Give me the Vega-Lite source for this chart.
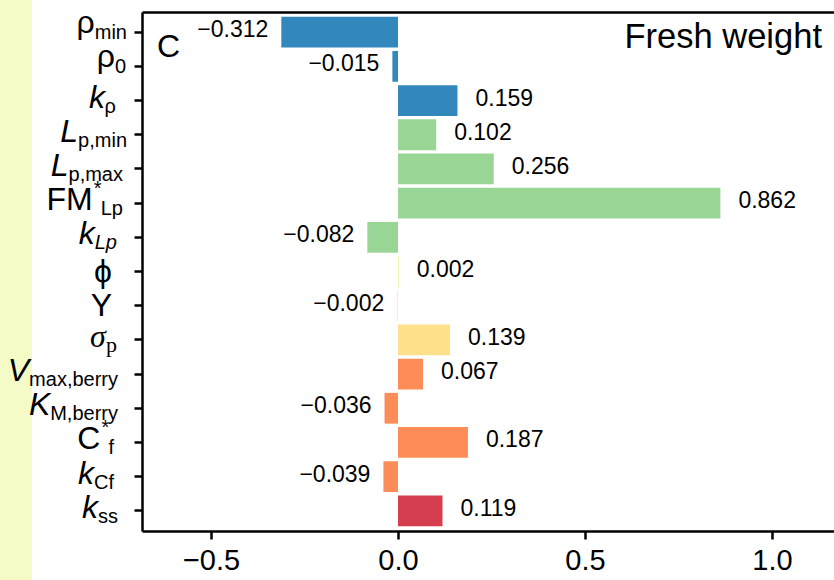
{
  "$schema": "https://vega.github.io/schema/vega-lite/v6.json",
  "width": 692,
  "height": 519,
  "autosize": {"type": "none"},
  "padding": {"left": 142, "top": 12, "right": 0, "bottom": 49},
  "background": "white",
  "config": {
    "view": {"stroke": null},
    "font": "Liberation Sans",
    "axis": {"domainColor": "black", "tickColor": "black", "labelColor": "black", "grid": false}
  },
  "data": {
    "values": [
      {"param": "ρmin", "main": "ρ", "sub": "min", "sup": "", "value": -0.312, "grp": "g1"},
      {"param": "ρ0", "main": "ρ", "sub": "0", "sup": "", "value": -0.015, "grp": "g1"},
      {"param": "kρ", "main": "k", "sub": "ρ", "sup": "", "value": 0.159, "grp": "g1"},
      {"param": "Lp,min", "main": "L", "sub": "p,min", "sup": "", "value": 0.102, "grp": "g2"},
      {"param": "Lp,max", "main": "L", "sub": "p,max", "sup": "", "value": 0.256, "grp": "g2"},
      {"param": "FM*Lp", "main": "FM", "sub": "Lp", "sup": "*", "value": 0.862, "grp": "g2"},
      {"param": "kLp", "main": "k", "sub": "Lp", "sup": "", "value": -0.082, "grp": "g2"},
      {"param": "ϕ", "main": "ϕ", "sub": "", "sup": "", "value": 0.002, "grp": "g3"},
      {"param": "Y", "main": "Y", "sub": "", "sup": "", "value": -0.002, "grp": "g3"},
      {"param": "σp", "main": "σ", "sub": "p", "sup": "", "value": 0.139, "grp": "g4"},
      {"param": "Vmax,berry", "main": "V", "sub": "max,berry", "sup": "", "value": 0.067, "grp": "g5"},
      {"param": "KM,berry", "main": "K", "sub": "M,berry", "sup": "", "value": -0.036, "grp": "g5"},
      {"param": "C*f", "main": "C", "sub": "f", "sup": "*", "value": 0.187, "grp": "g5"},
      {"param": "kCf", "main": "k", "sub": "Cf", "sup": "", "value": -0.039, "grp": "g5"},
      {"param": "kss", "main": "k", "sub": "ss", "sup": "", "value": 0.119, "grp": "g6"}
    ]
  },
  "transform": [
    {"calculate": "20*(0.556*length(datum.sub) + 0.277*length(replace(datum.sub, regexp('[^mM]','g'), '')) - 0.278*length(replace(datum.sub, regexp('[^,f]','g'), '')) - 0.334*length(replace(datum.sub, regexp('[^i]','g'), '')) - 0.223*length(replace(datum.sub, regexp('[^r]','g'), '')) - 0.056*length(replace(datum.sub, regexp('[^xys]','g'), '')) + 0.166*length(replace(datum.sub, regexp('[^C]','g'), '')))", "as": "subW"},
    {"calculate": "datum.sub == '' ? '' : substring(datum.sub, length(datum.sub) - 1)", "as": "lastc"},
    {"calculate": "datum.sub == '' ? 112 : datum.lastc == 'n' ? 127 : datum.lastc == '0' ? 126 : datum.lastc == 'x' ? 123 : datum.lastc == 'ρ' ? 116 : datum.lastc == 'y' ? 118 : datum.lastc == 'f' ? 114 : datum.lastc == 's' ? 118 : datum.sup != '' ? 123 : 117", "as": "R"},
    {"calculate": "datum.R - datum.subW - (datum.sup != '' ? 8 : 0)", "as": "mainEnd"},
    {"calculate": "-0.6845 + (datum.mainEnd - 142)/374", "as": "mx"},
    {"calculate": "-0.6845 + (datum.R - 142)/374", "as": "sx"},
    {"calculate": "-0.6845 + (datum.mainEnd + 1 - 142)/374", "as": "supx"}
  ],
  "layer": [
    {
      "data": {"values": [{"strip": "left"}]},
      "transform": [],
      "mark": {"type": "rect", "fill": "#f4fbc6", "clip": false},
      "encoding": {
        "x": {"datum": -1.0642, "type": "quantitative", "scale": {"domain": [-0.6845, 1.1658], "nice": false, "zero": false}, "axis": null},
        "x2": {"datum": -0.9786},
        "y": {"value": -12},
        "y2": {"value": 568}
      }
    },
    {
      "mark": {"type": "bar", "orient": "horizontal"},
      "encoding": {
        "y": {"field": "param", "type": "nominal", "sort": null, "scale": {"paddingInner": 0.1, "paddingOuter": 0.14},
          "axis": {"labels": false, "title": null, "tickSize": 8, "tickWidth": 2.5, "domainWidth": 2.5, "orient": "left"}},
        "x": {"field": "value", "type": "quantitative", "scale": {"domain": [-0.6845, 1.1658], "nice": false, "zero": false},
          "axis": {"values": [-0.5, 0, 0.5, 1.0], "format": ".1f", "title": null, "tickSize": 8, "tickWidth": 2.5, "domainWidth": 2.5,
            "labelFontSize": 29, "labelFont": "Liberation Sans", "labelPadding": 7, "labelFlush": false}},
        "x2": {"datum": 0},
        "color": {"field": "grp", "type": "nominal", "legend": null,
          "scale": {"domain": ["g1", "g2", "g3", "g4", "g5", "g6"], "range": ["#3288bd", "#99d594", "#e6f598", "#fee08b", "#fc8d59", "#d53e4f"]}}
      }
    },
    {
      "transform": [{"filter": "datum.value >= 0"}],
      "mark": {"type": "text", "align": "left", "baseline": "middle", "dx": 18, "dy": -2, "fontSize": 23, "font": "Liberation Sans", "color": "black"},
      "encoding": {
        "y": {"field": "param", "type": "nominal", "sort": null},
        "x": {"field": "value", "type": "quantitative", "axis": null},
        "text": {"field": "value", "type": "quantitative", "format": ".3f"}
      }
    },
    {
      "transform": [{"filter": "datum.value < 0"}],
      "mark": {"type": "text", "align": "right", "baseline": "middle", "dx": -13, "dy": -2, "fontSize": 23, "font": "Liberation Sans", "color": "black"},
      "encoding": {
        "y": {"field": "param", "type": "nominal", "sort": null},
        "x": {"field": "value", "type": "quantitative", "axis": null},
        "text": {"field": "value", "type": "quantitative", "format": ".3f"}
      }
    },
    {
      "transform": [{"filter": "datum.main == 'ρ'"}],
      "mark": {"type": "text", "align": "right", "baseline": "alphabetic", "dy": 1, "fontSize": 32, "font": "Liberation Sans", "color": "black", "clip": false},
      "encoding": {
        "y": {"field": "param", "type": "nominal", "sort": null},
        "x": {"field": "mx", "type": "quantitative", "axis": null},
        "text": {"field": "main"}
      }
    },
    {
      "transform": [{"filter": "datum.main == 'FM' || datum.main == 'C'"}],
      "mark": {"type": "text", "align": "right", "baseline": "alphabetic", "dy": 7, "fontSize": 32, "font": "Liberation Sans", "color": "black", "clip": false},
      "encoding": {
        "y": {"field": "param", "type": "nominal", "sort": null},
        "x": {"field": "mx", "type": "quantitative", "axis": null},
        "text": {"field": "main"}
      }
    },
    {
      "transform": [{"filter": "datum.sub == ''"}],
      "mark": {"type": "text", "align": "right", "baseline": "alphabetic", "dy": 10, "fontSize": 32, "font": "Liberation Sans", "color": "black", "clip": false},
      "encoding": {
        "y": {"field": "param", "type": "nominal", "sort": null},
        "x": {"field": "mx", "type": "quantitative", "axis": null},
        "text": {"field": "main"}
      }
    },
    {
      "transform": [{"filter": "indexof(['k','L','V','K'], datum.main) >= 0"}],
      "mark": {"type": "text", "align": "right", "baseline": "alphabetic", "dy": 7, "fontSize": 32, "font": "Liberation Sans", "fontStyle": "italic", "color": "black", "clip": false},
      "encoding": {
        "y": {"field": "param", "type": "nominal", "sort": null},
        "x": {"field": "mx", "type": "quantitative", "axis": null},
        "text": {"field": "main"}
      }
    },
    {
      "transform": [{"filter": "datum.main == 'σ'"}],
      "mark": {"type": "text", "align": "right", "baseline": "alphabetic", "dy": 7, "fontSize": 32, "font": "Liberation Serif", "fontStyle": "italic", "color": "black", "clip": false},
      "encoding": {
        "y": {"field": "param", "type": "nominal", "sort": null},
        "x": {"field": "mx", "type": "quantitative", "axis": null},
        "text": {"field": "main"}
      }
    },
    {
      "transform": [{"filter": "datum.main == 'ρ'"}],
      "mark": {"type": "text", "align": "right", "baseline": "alphabetic", "dy": 7, "fontSize": 20, "font": "Liberation Sans", "color": "black", "clip": false},
      "encoding": {
        "y": {"field": "param", "type": "nominal", "sort": null},
        "x": {"field": "sx", "type": "quantitative", "axis": null},
        "text": {"field": "sub"}
      }
    },
    {
      "transform": [{"filter": "datum.sub != '' && datum.param != 'kLp' && datum.main != 'σ' && datum.main != 'ρ'"}],
      "mark": {"type": "text", "align": "right", "baseline": "alphabetic", "dy": 12, "fontSize": 20, "font": "Liberation Sans", "color": "black", "clip": false},
      "encoding": {
        "y": {"field": "param", "type": "nominal", "sort": null},
        "x": {"field": "sx", "type": "quantitative", "axis": null},
        "text": {"field": "sub"}
      }
    },
    {
      "transform": [{"filter": "datum.param == 'kLp'"}],
      "mark": {"type": "text", "align": "right", "baseline": "alphabetic", "dy": 12, "fontSize": 20, "font": "Liberation Sans", "fontStyle": "italic", "color": "black", "clip": false},
      "encoding": {
        "y": {"field": "param", "type": "nominal", "sort": null},
        "x": {"field": "sx", "type": "quantitative", "axis": null},
        "text": {"field": "sub"}
      }
    },
    {
      "transform": [{"filter": "datum.main == 'σ'"}],
      "mark": {"type": "text", "align": "right", "baseline": "alphabetic", "dy": 12, "fontSize": 22, "font": "Liberation Serif", "color": "black", "clip": false},
      "encoding": {
        "y": {"field": "param", "type": "nominal", "sort": null},
        "x": {"field": "sx", "type": "quantitative", "axis": null},
        "text": {"field": "sub"}
      }
    },
    {
      "transform": [{"filter": "datum.sup != ''"}],
      "mark": {"type": "text", "align": "left", "baseline": "alphabetic", "dy": -8, "fontSize": 20, "font": "Liberation Sans", "color": "black", "clip": false},
      "encoding": {
        "y": {"field": "param", "type": "nominal", "sort": null},
        "x": {"field": "supx", "type": "quantitative", "axis": null},
        "text": {"field": "sup"}
      }
    },
    {
      "data": {"values": [{"label": "C"}]},
      "transform": [],
      "mark": {"type": "text", "align": "left", "baseline": "alphabetic", "fontSize": 32, "font": "Liberation Sans", "color": "black", "dy": 45},
      "encoding": {
        "x": {"datum": -0.6445, "type": "quantitative",
          "axis": {"orient": "top", "labels": false, "ticks": false, "domain": true, "domainWidth": 2.5, "title": null, "grid": false}},
        "y": {"value": 0},
        "text": {"field": "label"}
      }
    },
    {
      "data": {"values": [{"label": "Fresh weight"}]},
      "transform": [],
      "mark": {"type": "text", "align": "right", "baseline": "alphabetic", "fontSize": 34.5, "font": "Liberation Sans", "color": "black", "dy": 36},
      "encoding": {
        "x": {"datum": 1.1337, "type": "quantitative", "axis": null},
        "y": {"value": 0},
        "text": {"field": "label"}
      }
    }
  ],
  "resolve": {"axis": {"x": "independent"}}
}
